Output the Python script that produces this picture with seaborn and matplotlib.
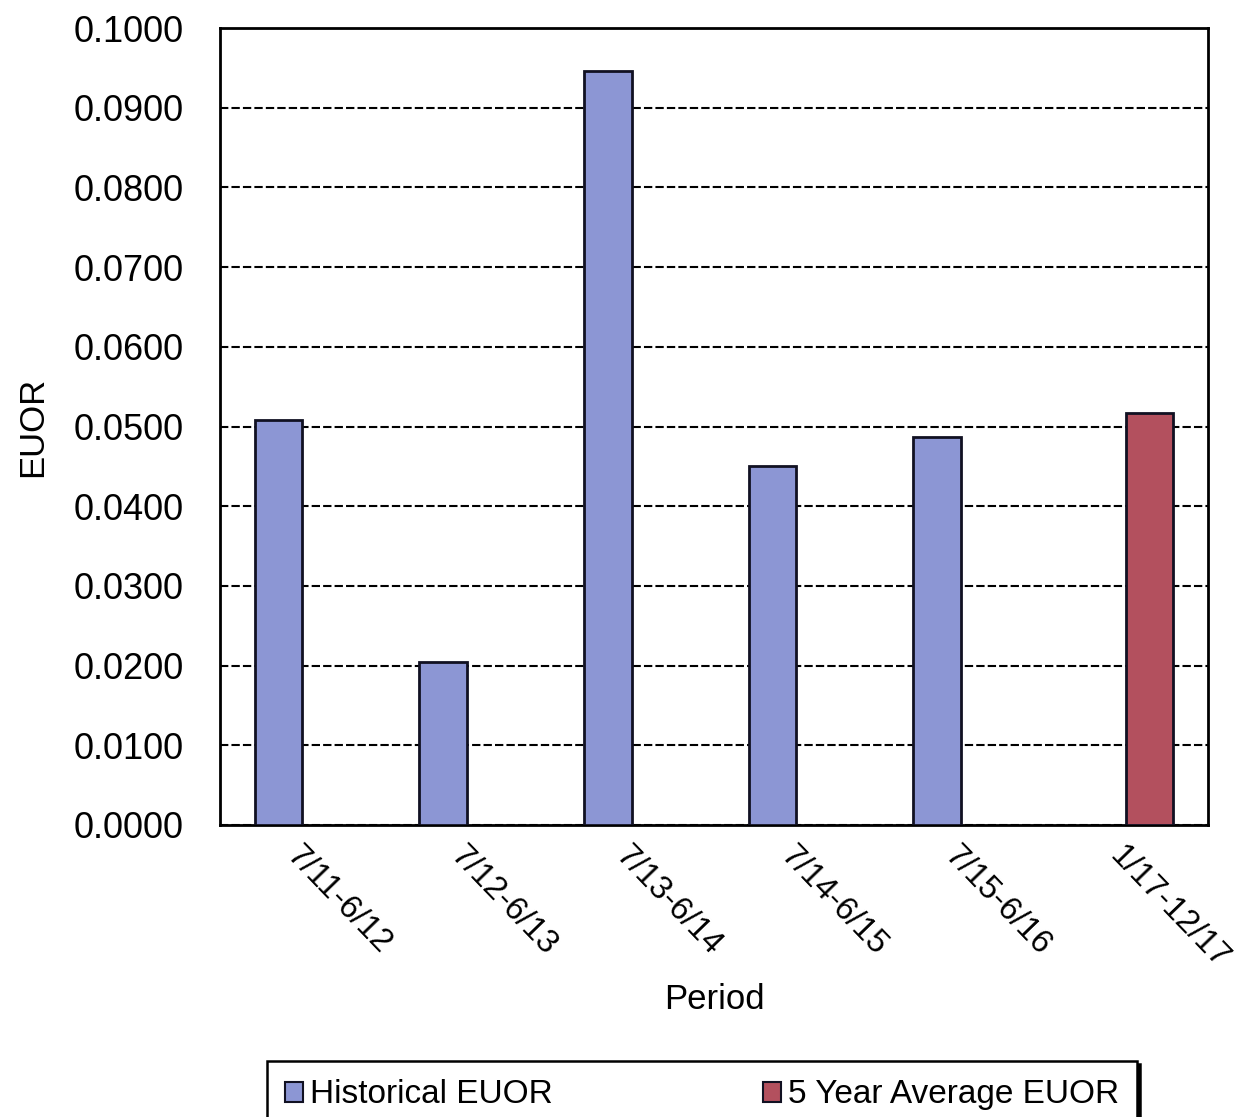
import matplotlib
matplotlib.use("Agg")
import matplotlib.pyplot as plt
import seaborn as sns
import pandas as pd

periods = ["7/11-6/12", "7/12-6/13", "7/13-6/14", "7/14-6/15", "7/15-6/16", "1/17-12/17"]
series_names = ["Historical EUOR", "5 Year Average EUOR"]
series_of_period = ["Historical EUOR"] * 5 + ["5 Year Average EUOR"]
euor_values = [0.0508, 0.0205, 0.0946, 0.0450, 0.0487, 0.0517]
y_ticks = [0.0, 0.01, 0.02, 0.03, 0.04, 0.05, 0.06, 0.07, 0.08, 0.09, 0.10]

df = pd.DataFrame({"Period": periods, "Series": series_of_period, "EUOR": euor_values})

sns.set_theme(style="white")
plt.rcParams["font.family"] = ["Liberation Sans", "DejaVu Sans"]
plt.rcParams["text.color"] = "black"
plt.rcParams["axes.labelcolor"] = "black"
plt.rcParams["xtick.color"] = "black"
plt.rcParams["ytick.color"] = "black"

fig = plt.figure(figsize=(12.44, 11.17), dpi=100)
ax = fig.add_axes([220 / 1244, 1 - 825 / 1117, (1208 - 220) / 1244, (825 - 28) / 1117])

palette = {"Historical EUOR": "#8c96d4", "5 Year Average EUOR": "#b3505e"}
sns.barplot(data=df, x="Period", y="EUOR", hue="Series", hue_order=series_names,
            order=periods, palette=palette, width=0.58, dodge=True,
            edgecolor="#111122", linewidth=2, saturation=1, ax=ax, zorder=3,
            legend=True)

ax.set_ylim(0, 0.1)
ax.set_xlim(-0.5, len(periods) - 0.5)
ax.set_yticks(y_ticks)
ax.set_yticklabels([f"{v:.4f}" for v in y_ticks], fontsize=26)
ax.yaxis.grid(True, color="black", linestyle=(0, (4, 1.5)), linewidth=1.5, zorder=0)
ax.set_axisbelow(True)
ax.tick_params(axis="y", direction="out", length=6, width=1.5, color="black", pad=20)
ax.tick_params(axis="x", length=0, pad=11)
for lbl in ax.get_xticklabels():
    lbl.set_rotation(-46)
    lbl.set_ha("left")
    lbl.set_va("top")
    lbl.set_rotation_mode("anchor")
    lbl.set_fontsize(23.5)

for sp in ax.spines.values():
    sp.set_color("black")
    sp.set_linewidth(2)

ax.set_xlabel("Period", fontsize=25, labelpad=6)
ax.set_ylabel("EUOR", fontsize=25, labelpad=18)

handles, labels = ax.get_legend_handles_labels()
ax.get_legend().remove()
leg = fig.legend(handles, labels, loc="upper center",
                 bbox_to_anchor=(702 / 1244, 1 - 1061 / 1117), ncol=2,
                 fontsize=24, frameon=True, fancybox=False,
                 shadow={"color": "black", "alpha": 1},
                 handlelength=0.55, handleheight=0.55, handletextpad=0.2,
                 columnspacing=6.3, borderpad=0.55, borderaxespad=0)
leg.get_frame().set_edgecolor("black")
leg.get_frame().set_linewidth(1.8)
for h in leg.legend_handles:
    h.set_edgecolor("#111122")
    h.set_linewidth(1.5)

fig.savefig("out.png", dpi=100, facecolor="white")
